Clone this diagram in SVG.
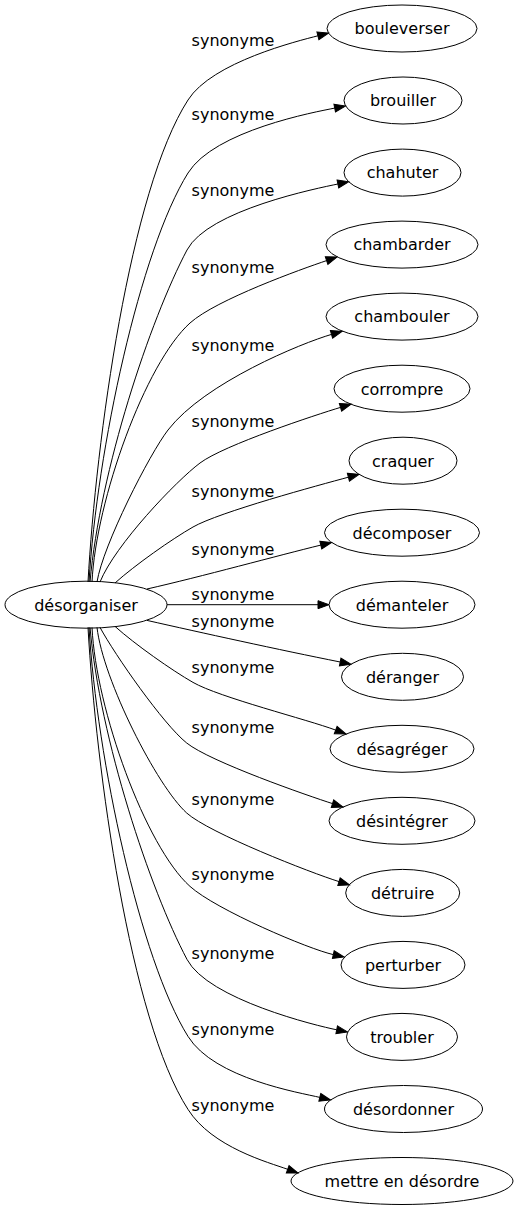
<svg xmlns="http://www.w3.org/2000/svg" width="520" height="1211" viewBox="0 0 520 1211">
<style>
  .node ellipse { fill: none; stroke: #000; stroke-width: 1; }
  .node text { font-family: "DejaVu Sans", Verdana, sans-serif; font-size: 16px; fill: #000; text-anchor: middle; }
  .edges path { fill: none; stroke: #000; stroke-width: 1; marker-end: url(#arr); }
  .lbl { font-family: "DejaVu Sans", Verdana, sans-serif; font-size: 16px; fill: #000; text-anchor: middle; }
</style>
<defs>
  <marker id="arr" markerWidth="11" markerHeight="8" refX="0" refY="4" orient="auto" markerUnits="userSpaceOnUse" overflow="visible">
    <path d="M0,0 L11,4 L0,8 z" fill="#000" stroke="#000" stroke-width="1"/>
  </marker>
</defs>
<rect width="520" height="1211" fill="#fff"/>
<g class="edges" id="edges">
  <path d="M88,582 C96,440 130,190 188,100 C212,62 298.5,40.8 317.9,35.8"/>
  <path d="M89,582 C97,450 140,250 188,173 C214.5,130.5 315.5,111.9 334.7,108.1"/>
  <path d="M90,582 C100,470 150,320 187,250 C208,210 318.3,188.1 337.9,184"/>
  <path d="M92,582 C96,500 145.4,363.1 190,323 C216,299.6 302,268.9 326.6,260.6"/>
  <path d="M97,582 C103,545 149.7,453.7 168,430 C204.6,382.6 302,343 331.5,334.4"/>
  <path d="M100,582 C115,545 176,481 200,463 C224,445 316.5,414.6 340.5,407.4"/>
  <path d="M115,583 C135,565 172,539 193,527 C219,512.1 319.4,485 348.4,477.2"/>
  <path d="M147,589 C200,577 280,555 320.8,545.1"/>
  <path d="M167,604.7 L318,604.7"/>
  <path d="M147,620.4 C200,632.4 280,650 340.2,662"/>
  <path d="M115,626.4 C135,644.4 172,670.4 193,682.4 C219,697.3 307.6,719.6 335.7,730.1"/>
  <path d="M100,627.4 C115,655 163.3,724.3 186.7,743 C210.1,761.8 308.7,796 332.5,803.6"/>
  <path d="M97,627.4 C103,680 157,786.2 186.7,813 C209,833.1 310.9,872.8 339,881.6"/>
  <path d="M92,627.4 C96,709.4 145.4,846.3 190,886.4 C216,909.8 308.9,949.2 333.3,954.6"/>
  <path d="M90,627.4 C100,739.4 150,889.4 187,959.4 C208,999.4 317.1,1025.9 336.7,1029.8"/>
  <path d="M89,627.4 C97,759.4 140,959.4 188,1036.4 C214.5,1078.9 300.4,1092.7 319.8,1097.4"/>
  <path d="M88,627.4 C96,769.4 130,1019.4 188,1109.4 C212,1147.4 268.9,1162.5 287.7,1169.3"/>
  <text class="lbl" x="233" y="46">synonyme</text>
  <text class="lbl" x="233" y="120">synonyme</text>
  <text class="lbl" x="233" y="196">synonyme</text>
  <text class="lbl" x="233" y="273">synonyme</text>
  <text class="lbl" x="233" y="351">synonyme</text>
  <text class="lbl" x="233" y="427">synonyme</text>
  <text class="lbl" x="233" y="497">synonyme</text>
  <text class="lbl" x="233" y="555">synonyme</text>
  <text class="lbl" x="233" y="600">synonyme</text>
  <text class="lbl" x="233" y="627">synonyme</text>
  <text class="lbl" x="233" y="673">synonyme</text>
  <text class="lbl" x="233" y="733">synonyme</text>
  <text class="lbl" x="233" y="805">synonyme</text>
  <text class="lbl" x="233" y="880">synonyme</text>
  <text class="lbl" x="233" y="959">synonyme</text>
  <text class="lbl" x="233" y="1035">synonyme</text>
  <text class="lbl" x="233" y="1111">synonyme</text>
</g>
<g class="node" id="n-desorganiser"><ellipse cx="86" cy="604.7" rx="81" ry="23.5"/><text x="86" y="610.5">désorganiser</text></g>
<g class="node" id="n-bouleverser"><ellipse cx="402" cy="28.5" rx="75" ry="23.5"/><text x="402" y="34.3">bouleverser</text></g>
<g class="node" id="n-brouiller"><ellipse cx="403" cy="100.5" rx="59" ry="23.5"/><text x="403" y="106.3">brouiller</text></g>
<g class="node" id="n-chahuter"><ellipse cx="402.5" cy="172.6" rx="58.5" ry="23.5"/><text x="402.5" y="178.4">chahuter</text></g>
<g class="node" id="n-chambarder"><ellipse cx="402" cy="244.6" rx="76" ry="23.5"/><text x="402" y="250.4">chambarder</text></g>
<g class="node" id="n-chambouler"><ellipse cx="402" cy="316.6" rx="76" ry="23.5"/><text x="402" y="322.4">chambouler</text></g>
<g class="node" id="n-corrompre"><ellipse cx="402" cy="388.7" rx="68" ry="23.5"/><text x="402" y="394.5">corrompre</text></g>
<g class="node" id="n-craquer"><ellipse cx="403" cy="460.7" rx="54" ry="23.5"/><text x="403" y="466.5">craquer</text></g>
<g class="node" id="n-decomposer"><ellipse cx="402" cy="532.7" rx="77.5" ry="23.5"/><text x="402" y="538.5">décomposer</text></g>
<g class="node" id="n-demanteler"><ellipse cx="402" cy="604.7" rx="73" ry="23.5"/><text x="402" y="610.5">démanteler</text></g>
<g class="node" id="n-deranger"><ellipse cx="402.5" cy="676.8" rx="61" ry="23.5"/><text x="402.5" y="682.6">déranger</text></g>
<g class="node" id="n-desagreger"><ellipse cx="402" cy="748.8" rx="72" ry="23.5"/><text x="402" y="754.6">désagréger</text></g>
<g class="node" id="n-desintegrer"><ellipse cx="402" cy="820.8" rx="73" ry="23.5"/><text x="402" y="826.6">désintégrer</text></g>
<g class="node" id="n-detruire"><ellipse cx="402.7" cy="892.9" rx="57" ry="23.5"/><text x="402.7" y="898.7">détruire</text></g>
<g class="node" id="n-perturber"><ellipse cx="403" cy="964.9" rx="62" ry="23.5"/><text x="403" y="970.7">perturber</text></g>
<g class="node" id="n-troubler"><ellipse cx="402" cy="1036.9" rx="55.5" ry="23.5"/><text x="402" y="1042.7">troubler</text></g>
<g class="node" id="n-desordonner"><ellipse cx="403.5" cy="1109" rx="79" ry="23.5"/><text x="403.5" y="1114.8">désordonner</text></g>
<g class="node" id="n-mettre"><ellipse cx="402" cy="1181" rx="111" ry="23.5"/><text x="402" y="1186.8">mettre en désordre</text></g>
</svg>
